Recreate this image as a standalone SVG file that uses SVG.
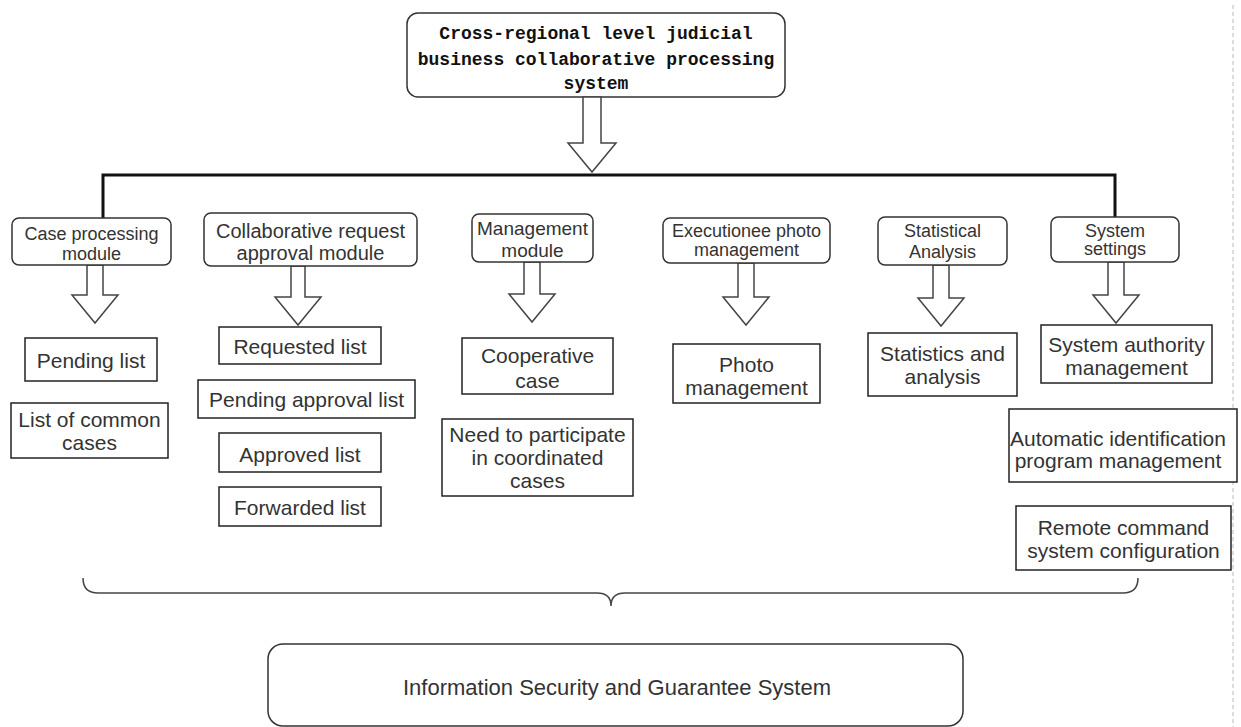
<svg xmlns="http://www.w3.org/2000/svg" width="1241" height="727" viewBox="0 0 1241 727">
<style>
.rbox{fill:#fff;stroke:#333;stroke-width:1.5}
.leaf{fill:#fff;stroke:#222;stroke-width:1.5}
.arr{fill:#fff;stroke:#444;stroke-width:1.5;stroke-linejoin:miter}
.t{font-family:"Liberation Sans",Arial,sans-serif;fill:#333;text-anchor:middle}
.m{font-size:18px}
.l{font-size:21px}
.title{font-family:"Liberation Mono","Courier New",monospace;font-weight:bold;font-size:18px;fill:#111;text-anchor:middle}
</style>
<rect width="1241" height="727" fill="#fff"/>
<line x1="1233" y1="5" x2="1233" y2="727" stroke="#bbb" stroke-width="1" stroke-dasharray="4 3"/>

<g id="root">
<rect class="rbox" x="407" y="13" width="378" height="84" rx="11"/>
<text class="title" x="596" y="39">Cross-regional level judicial</text>
<text class="title" x="596" y="65">business collaborative processing</text>
<text class="title" x="596" y="89">system</text>
</g>

<g id="connectors">
<polygon class="arr" points="583,97 601,97 601,143 616,143 592,172 568,143 583,143"/>
<polyline points="103,218 103,175 1115,175 1115,217" fill="none" stroke="#111" stroke-width="3"/>
<polygon class="arr" points="87,265 103,265 103,295 118,295 95,323 72,295 87,295"/>
<polygon class="arr" points="291,266 305,266 305,297 321,297 298,325 275,297 291,297"/>
<polygon class="arr" points="524,262 540,262 540,294 555,294 532,322 509,294 524,294"/>
<polygon class="arr" points="738,263 754,263 754,297 769,297 746,325 723,297 738,297"/>
<polygon class="arr" points="933,265 949,265 949,298 964,298 941,326 918,298 933,298"/>
<polygon class="arr" points="1108,262 1124,262 1124,295 1139,295 1116,323 1093,295 1108,295"/>
<path d="M83,578 Q83,593 98,593 L597,593 Q611,593 611,606 Q611,593 625,593 L1123,593 Q1138,593 1138,578" fill="none" stroke="#444" stroke-width="1.5"/>
</g>

<g id="case-processing">
<rect class="rbox" x="12" y="218" width="159" height="47" rx="7"/>
<text class="t m" x="91.5" y="240">Case processing</text>
<text class="t m" x="91.5" y="260">module</text>
</g>
<g id="collab-request">
<rect class="rbox" x="204" y="213" width="213" height="53" rx="7"/>
<text class="t" style="font-size:20px" x="310.5" y="238">Collaborative request</text>
<text class="t" style="font-size:20px" x="310.5" y="260">approval module</text>
</g>
<g id="management-module">
<rect class="rbox" x="472" y="214" width="121" height="48" rx="7"/>
<text class="t" style="font-size:19px" x="532.5" y="235">Management</text>
<text class="t" style="font-size:19px" x="532.5" y="257">module</text>
</g>
<g id="executionee-photo">
<rect class="rbox" x="663" y="218" width="167" height="45" rx="7"/>
<text class="t m" x="746.5" y="237">Executionee photo</text>
<text class="t m" x="746.5" y="256">management</text>
</g>
<g id="statistical-analysis">
<rect class="rbox" x="878" y="217" width="129" height="48" rx="7"/>
<text class="t m" x="942.5" y="237">Statistical</text>
<text class="t m" x="942.5" y="258">Analysis</text>
</g>
<g id="system-settings">
<rect class="rbox" x="1051" y="217" width="128" height="45" rx="7"/>
<text class="t m" x="1115" y="237">System</text>
<text class="t m" x="1115" y="255">settings</text>
</g>

<g id="pending-list">
<rect class="leaf" x="25" y="338" width="132" height="43"/>
<text class="t l" x="91" y="368">Pending list</text>
</g>
<g id="common-cases">
<rect class="leaf" x="11" y="403" width="157" height="55"/>
<text class="t l" x="89.5" y="427">List of common</text>
<text class="t l" x="89.5" y="450">cases</text>
</g>
<g id="requested-list">
<rect class="leaf" x="219" y="327" width="162" height="37"/>
<text class="t l" x="300" y="354">Requested list</text>
</g>
<g id="pending-approval-list">
<rect class="leaf" x="198" y="380" width="217" height="38"/>
<text class="t l" x="306.5" y="407">Pending approval list</text>
</g>
<g id="approved-list">
<rect class="leaf" x="219" y="433" width="162" height="39"/>
<text class="t l" x="300" y="462">Approved list</text>
</g>
<g id="forwarded-list">
<rect class="leaf" x="219" y="487" width="162" height="39"/>
<text class="t l" x="300" y="515">Forwarded list</text>
</g>
<g id="cooperative-case">
<rect class="leaf" x="462" y="338" width="151" height="56"/>
<text class="t l" x="537.5" y="363">Cooperative</text>
<text class="t l" x="537.5" y="388">case</text>
</g>
<g id="coordinated-cases">
<rect class="leaf" x="442" y="419" width="191" height="77"/>
<text class="t l" x="537.5" y="442">Need to participate</text>
<text class="t l" x="537.5" y="465">in coordinated</text>
<text class="t l" x="537.5" y="488">cases</text>
</g>
<g id="photo-management">
<rect class="leaf" x="673" y="344" width="147" height="59"/>
<text class="t l" x="746.5" y="372">Photo</text>
<text class="t l" x="746.5" y="395">management</text>
</g>
<g id="statistics-analysis">
<rect class="leaf" x="868" y="333" width="149" height="63"/>
<text class="t l" x="942.5" y="361">Statistics and</text>
<text class="t l" x="942.5" y="384">analysis</text>
</g>
<g id="system-authority">
<rect class="leaf" x="1041" y="325" width="171" height="58"/>
<text class="t l" x="1126.5" y="352">System authority</text>
<text class="t l" x="1126.5" y="375">management</text>
</g>
<g id="auto-identification">
<rect class="leaf" x="1009" y="409" width="228" height="73"/>
<text class="t l" x="1118" y="446">Automatic identification</text>
<text class="t l" x="1118" y="468">program management</text>
</g>
<g id="remote-command">
<rect class="leaf" x="1016" y="506" width="215" height="64"/>
<text class="t l" x="1123.5" y="535">Remote command</text>
<text class="t l" x="1123.5" y="558">system configuration</text>
</g>

<g id="security-system">
<rect class="rbox" x="268" y="644" width="695" height="82" rx="15"/>
<text class="t" style="font-size:22px" x="617" y="695">Information Security and Guarantee System</text>
</g>
</svg>
